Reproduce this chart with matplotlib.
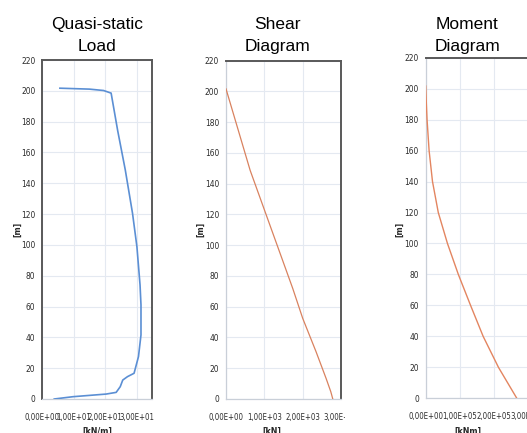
import matplotlib
matplotlib.use('Agg')
import matplotlib.pyplot as plt
from matplotlib import font_manager as fm
from matplotlib.ticker import FuncFormatter, MultipleLocator
from matplotlib.patches import Rectangle

# --- data ---
load_x = [3.8, 9.8, 20.3, 23.5, 24.8, 25.6, 27.1, 29.2, 30.6, 31.4, 31.4, 31.1, 30.1, 28.7, 26.4, 24.0, 21.9, 19.5, 15.0, 5.6]
load_y = [0, 1.5, 3.2, 4.3, 8.0, 12.3, 14.5, 16.7, 27.5, 41.6, 61, 74, 98.9, 120.6, 148.7, 174, 198.5, 200.2, 201.1, 201.7]

shear_x = [0, 630, 1741, 2002, 2350, 2611, 2733, 2786]
shear_y = [201.7, 148.7, 71.9, 52.4, 30.7, 13.4, 4.8, 0]

moment_x = [0, 2e3, 4e3, 10e3, 20e3, 37e3, 64e3, 96e3, 132e3, 169e3, 214e3, 268e3]
moment_y = [201.7, 190, 180, 160, 140, 120, 100, 80, 60, 40, 20, 0]

titles = [('Quasi-static', 'Load'), ('Shear', 'Diagram'), ('Moment', 'Diagram')]
xlabels = ['[kN/m]', '[kN]', '[kNm]']

W, H = 527, 433
fig = plt.figure(figsize=(W / 100, H / 100), dpi=100)
fig.patch.set_facecolor('white')

# a narrow font for the Excel-like tick labels, if one is installed
narrow = [f for f in fm.fontManager.ttflist
          if ('Narrow' in f.name or 'Condensed' in f.name or f.stretch in ('condensed', 'semi-condensed'))
          and f.style == 'normal']
narrow.sort(key=lambda f: 0 if 'Liberation' in f.name else 1)
reg = [f for f in narrow if f.weight in (400, 'normal', 'regular')]
bld = [f for f in narrow if f.weight in (700, 'bold')]
if reg:
    xtick_fp = fm.FontProperties(fname=reg[0].fname, size=5.6)
    ytick_fp = fm.FontProperties(fname=reg[0].fname, size=6.0)
    bold_fp = fm.FontProperties(fname=(bld or reg)[0].fname, size=6.3)
else:
    xtick_fp = fm.FontProperties(family='Liberation Sans', size=4.9)
    ytick_fp = fm.FontProperties(family='Liberation Sans', size=5.2)
    bold_fp = fm.FontProperties(family='Liberation Sans', size=5.6, weight='bold')


def box(l, r, t, b):
    return [l / W, (H - b) / H, (r - l) / W, (b - t) / H]


def sci(v, pos):
    return f"{v:.2E}".replace('.', ',')


dark = '#595959'
light = '#c9cfd8'
grid_c = '#e4e9f1'

panels = [
    dict(pos=box(42.3, 152.3, 60, 399), x=load_x, y=load_y, xlim=35, step=10, color='#5b8fd4', lw=1.2,
         spines=dict(top=dark, right=dark, left=dark, bottom=light), ylab_x=18, title_x=97, xlab_x=97),
    dict(pos=box(226, 341, 60.7, 399), x=shear_x, y=shear_y, xlim=3000, step=1000, color='#d9825f', lw=0.9,
         spines=dict(top=dark, right=dark, left=light, bottom=light), ylab_x=200.7, title_x=277, xlab_x=272),
    dict(pos=box(425.7, 527.7, 57.7, 398.3), x=moment_x, y=moment_y, xlim=3e5, step=1e5, color='#e38560', lw=1.0,
         spines=dict(top=dark, right=dark, left=light, bottom=light), ylab_x=400, title_x=467, xlab_x=468),
]

for i, p in enumerate(panels):
    ax = fig.add_axes(p['pos'])
    ax.plot(p['x'], p['y'], color=p['color'], lw=p['lw'], zorder=3)
    ax.set_xlim(0, p['xlim'])
    ax.set_ylim(0, 220)
    ax.xaxis.set_major_locator(MultipleLocator(p['step']))
    ax.yaxis.set_major_locator(MultipleLocator(20))
    ax.xaxis.set_major_formatter(FuncFormatter(sci))
    ax.grid(True, color=grid_c, lw=0.8)
    ax.set_axisbelow(True)
    ax.tick_params(length=0, colors='#2b2b2b')
    ax.tick_params(axis='x', pad=10)
    ax.tick_params(axis='y', pad=5)
    for lab in ax.get_xticklabels():
        lab.set_fontproperties(xtick_fp)
    for lab in ax.get_yticklabels():
        lab.set_fontproperties(ytick_fp)
    for side, c in p['spines'].items():
        ax.spines[side].set_color(c)
        ax.spines[side].set_linewidth(1.4 if c == dark else 0.9)

    # titles
    fig.text(p['title_x'] / W, 1 - 29 / H, titles[i][0], ha='center', va='baseline',
             fontsize=12.5, family='Liberation Sans')
    fig.text(p['title_x'] / W, 1 - 51 / H, titles[i][1], ha='center', va='baseline',
             fontsize=12.5, family='Liberation Sans')
    # axis labels
    fig.text(p['ylab_x'] / W, 1 - 229 / H, '[m]', rotation=90, ha='center', va='center',
             fontproperties=bold_fp, color='#262626')
    fig.text(p['xlab_x'] / W, 1 - 427 / H, xlabels[i], ha='center', va='top',
             fontproperties=bold_fp, color='#262626')

# the shear picture is cropped on its right side
fig.add_artist(Rectangle((345 / W, 0), 60 / W, 30 / H, transform=fig.transFigure,
                         facecolor='white', edgecolor='none', zorder=5))

fig.savefig('out.png', dpi=100, facecolor='white')
